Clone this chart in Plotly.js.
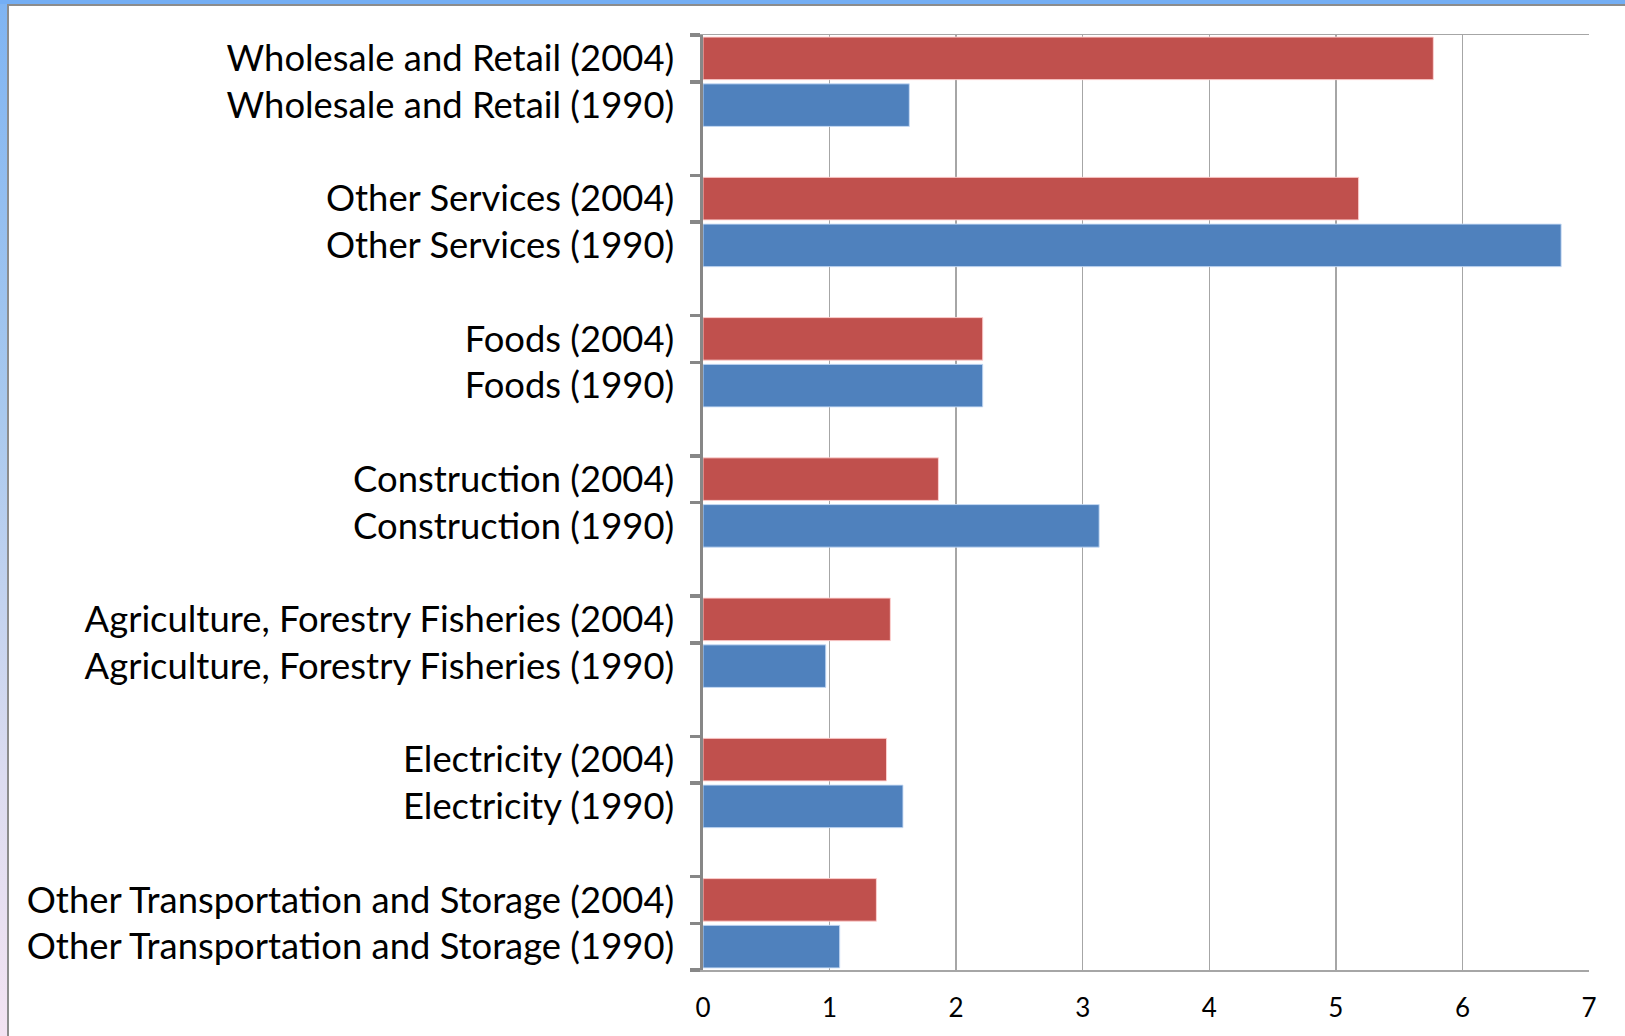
<!DOCTYPE html>
<html>
<head>
<meta charset="utf-8">
<script src="https://cdn.plot.ly/plotly-3.0.1.min.js"></script>
<style>
  html, body { margin: 0; padding: 0; width: 1625px; height: 1036px; overflow: hidden; }
  #leftstrip { position: absolute; left: 0; top: 0; width: 7px; height: 1036px;
    background: linear-gradient(to bottom, #7fb4f2 0%, #a9c9ee 40%, #dcdcf0 75%, #f3e3f2 100%); }
  #topstrip { position: absolute; left: 0; top: 0; width: 1625px; height: 4px; background: #74aef4; }
  #sheet { position: absolute; left: 7px; top: 4px; right: 0; bottom: 0;
    border-left: 2px solid #8c8c8c; border-top: 2px solid #8c8c8c; background: #ffffff; }
  #chart { position: absolute; left: 0; top: 0; width: 1625px; height: 1036px; }
</style>
</head>
<body>
<div id="leftstrip"></div>
<div id="topstrip"></div>
<div id="sheet"></div>
<div id="chart"></div>
<script>
const sectors = [
  "Wholesale and Retail",
  "Other Services",
  "Foods",
  "Construction",
  "Agriculture, Forestry Fisheries",
  "Electricity",
  "Other Transportation and Storage"
];
const values2004 = [5.77, 5.18, 2.21, 1.86, 1.48, 1.45, 1.37];
const values1990 = [1.63, 6.78, 2.21, 3.13, 0.97, 1.58, 1.08];
const xTickVals = [0, 1, 2, 3, 4, 5, 6, 7];

const labels2004 = sectors.map(s => s + " (2004)");
const labels1990 = sectors.map(s => s + " (1990)");

// category order top to bottom, with an empty slot between sector groups
const categoryOrder = [];
const labelledCats = [];
sectors.forEach((s, i) => {
  categoryOrder.push(labels2004[i]);
  categoryOrder.push(labels1990[i]);
  labelledCats.push(labels2004[i], labels1990[i]);
  if (i < sectors.length - 1) categoryOrder.push("gap" + (i + 1));
});

const red = "#C0504D", blue = "#4F81BD";

const traces = [
  { type: "bar", orientation: "h", name: "2004", y: labels2004, x: values2004,
    width: 0.91, marker: { color: red, line: { color: "rgba(255,210,210,0.9)", width: 1 } },
    hoverinfo: "x+y" },
  { type: "bar", orientation: "h", name: "1990", y: labels1990, x: values1990,
    width: 0.91, marker: { color: blue, line: { color: "rgba(200,220,245,0.9)", width: 1 } },
    hoverinfo: "x+y" }
];

const layout = {
  width: 1625, height: 1036,
  margin: { l: 703, r: 36, t: 35, b: 66, pad: 0 },
  paper_bgcolor: "rgba(0,0,0,0)",
  plot_bgcolor: "#ffffff",
  showlegend: false,
  barmode: "overlay",
  font: { family: "Lato, 'Open Sans', sans-serif", color: "#000000" },
  xaxis: {
    range: [0, 7], tickvals: xTickVals, ticktext: xTickVals.map(String),
    showgrid: true, gridcolor: "#a6a6a6", gridwidth: 1.5,
    zeroline: false,
    showline: true, linecolor: "#a6a6a6", linewidth: 1.5, mirror: true,
    ticks: "", ticklabelstandoff: 14,
    tickfont: { family: "Lato, sans-serif", size: 26, color: "#000000" },
    fixedrange: true
  },
  yaxis: {
    type: "category", categoryorder: "array", categoryarray: categoryOrder,
    range: [categoryOrder.length - 0.5, -0.5],
    tickmode: "array", tickvals: labelledCats, ticktext: labelledCats,
    tickson: "boundaries", ticks: "outside", ticklen: 10, tickwidth: 3.5, tickcolor: "#878787",
    showline: true, linecolor: "#878787", linewidth: 3.5,
    showgrid: false, zeroline: false,
    ticklabelstandoff: 18,
    tickfont: { family: "Lato, sans-serif", size: 36.4, color: "#000000" },
    fixedrange: true
  }
};

Plotly.newPlot("chart", traces, layout, { displayModeBar: false, staticPlot: true });
</script>
</body>
</html>
